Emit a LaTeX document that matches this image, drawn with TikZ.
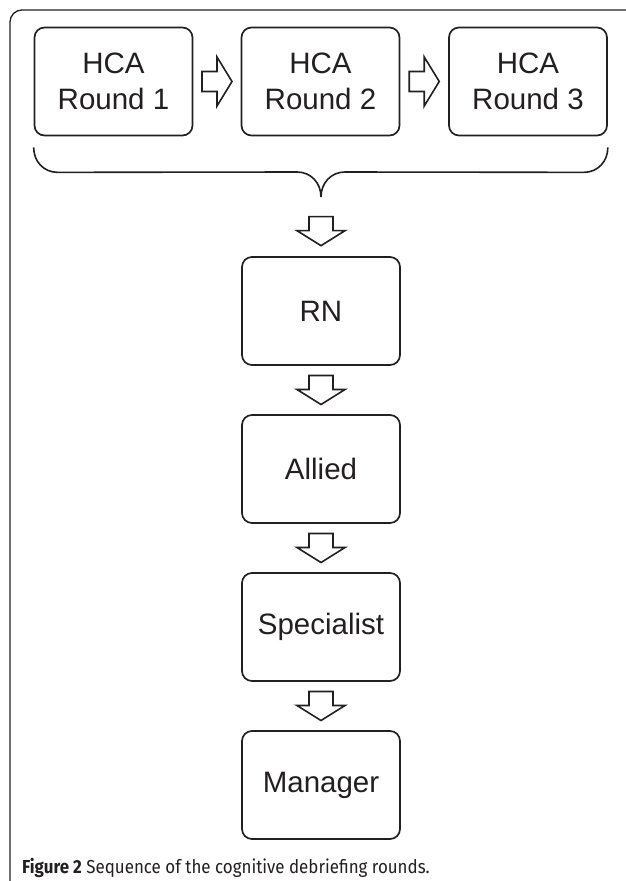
\documentclass[tikz,border=0pt]{standalone}
\usepackage{fontspec}
\setmainfont{Liberation Sans}
\newfontfamily\capfont[FakeStretch=0.9]{Fira Sans}
\usetikzlibrary{calc}
\definecolor{ink}{HTML}{231F20}
\tikzset{
  stepbox/.style={draw=ink, line width=1.7pt, rounded corners=10pt, minimum width=158pt, minimum height=108pt, inner sep=0pt, align=center, font=\fontsize{29.5}{36}\selectfont, text=ink},
  blockarrow/.style={draw=ink, line width=1.6pt, fill=white, line join=miter},
  pics/downarrow/.style={code={
    \draw[blockarrow] (-12,-14.5) -- (12,-14.5) -- (12,-0.5) -- (24,-0.5) -- (0,14.5) -- (-24,-0.5) -- (-12,-0.5) -- cycle;}},
  pics/rightarrow/.style={code={
    \draw[blockarrow] (-15,-10) -- (0,-10) -- (0,-24.5) -- (15,0) -- (0,24.5) -- (0,10) -- (-15,10) -- cycle;}}
}
\begin{document}
\begin{tikzpicture}[x=1pt,y=-1pt]
\useasboundingbox (0,0) rectangle (625,881);
% outer frame
\draw[ink, line width=1.3pt, rounded corners=12pt] (10,890) -- (10,10) -- (640,10);
% top boxes
\node[stepbox] (h1) at (113.5,81.5) {HCA\\Round 1};
\node[stepbox] (h2) at (320.5,81.5) {HCA\\Round 2};
\node[stepbox] (h3) at (528,81.5) {HCA\\Round 3};
\pic at ($(h1.east)!0.5!(h2.west)$) {rightarrow};
\pic at ($(h2.east)!0.5!(h3.west)$) {rightarrow};
% brace
\coordinate (bl) at ($(h1.south west)+(0,11)$);
\coordinate (br) at ($(h3.south east)+(0,11)$);
\coordinate (bt) at (321,197);
\draw[ink, line width=1.6pt]
  (bl) .. controls +(0,14) and +(-14,0) .. ($(bl)+(24,25)$)
  -- ($(bt)+(-24,-25)$) .. controls +(14,0) and +(0,-14) .. (bt)
  .. controls +(0,-14) and +(-14,0) .. ($(bt)+(24,-25)$)
  -- ($(br)+(-24,25)$) .. controls +(14,0) and +(0,14) .. (br);
% vertical chain
\node[stepbox] (rn) at (321,311) {RN};
\node[stepbox] (al) at (321,469) {Allied};
\node[stepbox] (sp) at (321,627) {Specialist};
\node[stepbox] (mg) at (321,785) {Manager};
\pic at ($(rn.north)+(0,-25)$) {downarrow};
\pic at ($(rn.south)!0.5!(al.north)$) {downarrow};
\pic at ($(al.south)!0.5!(sp.north)$) {downarrow};
\pic at ($(sp.south)!0.5!(mg.north)$) {downarrow};
% caption
\node[anchor=base west, inner sep=0pt, text=ink, font=\capfont\fontsize{18.8}{20}\selectfont] (cap) at (22,873) {\textbf{Figure 2} Sequence of the cognitive debriefing rounds.};
\end{tikzpicture}
\end{document}
